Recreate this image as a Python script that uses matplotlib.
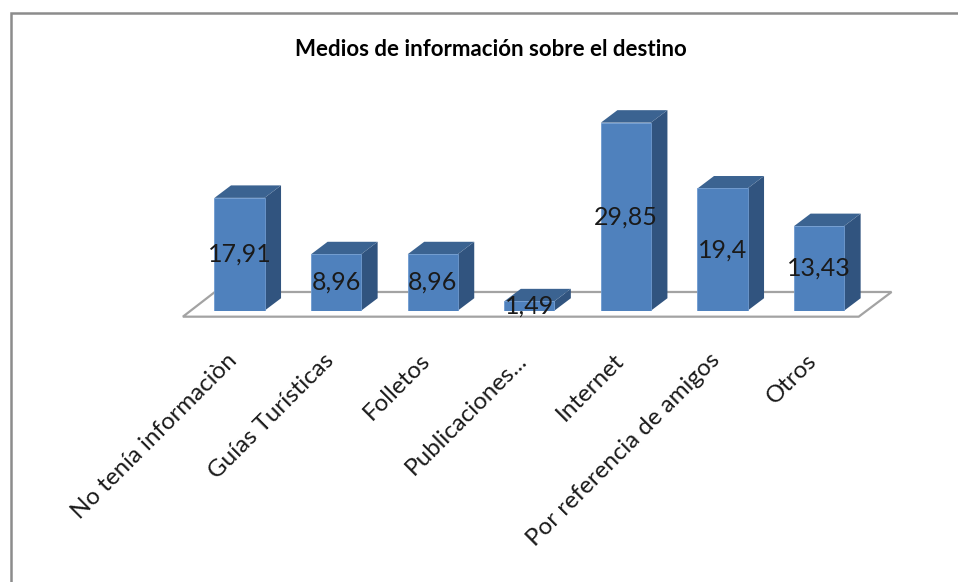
import matplotlib
matplotlib.use('Agg')
import matplotlib.pyplot as plt
from matplotlib.lines import Line2D
from matplotlib.patches import Polygon
from matplotlib.transforms import ScaledTranslation

plt.rcParams['font.family'] = ['Lato', 'DejaVu Sans']

categories = ['No tenía informaciòn', 'Guías Turísticas', 'Folletos', 'Publicaciones...',
              'Internet', 'Por referencia de amigos', 'Otros']
values = [17.91, 8.96, 8.96, 1.49, 29.85, 19.4, 13.43]
title = 'Medios de información sobre el destino'

W, H = 958, 582
FRONT = '#4f81bd'
SIDE = '#31547f'
TOP = '#3b6391'
FLOOR = '#a3a3a3'
BORDER = '#8c8c8c'

# pseudo-3D depth, in data units
bar_w = 0.518
depth_x = 0.171
depth_y = 1.98

fig = plt.figure(figsize=(W / 100, H / 100), dpi=100)
fig.patch.set_facecolor('white')

# axes placed so that y=0 is the foot of the bars
left, right = 191.2, 867.4
base, top_px = 310.7, 109.1
ax = fig.add_axes([left / W, 1 - base / H, (right - left) / W, (base - top_px) / H])
ax.set_xlim(-0.5, 6.5)
ax.set_ylim(0, 32)
ax.patch.set_visible(False)
for s in ax.spines.values():
    s.set_visible(False)
ax.set_yticks([])

# floor
ax.add_patch(Polygon([(-0.586, -0.95), (6.41, -0.95), (6.75, 2.97), (-0.255, 2.97)],
                     closed=True, fc='white', ec=FLOOR, lw=1.6, clip_on=False, zorder=1))

ax.bar(range(len(values)), values, width=bar_w, color=FRONT, edgecolor='#6f9bd0',
       linewidth=0.6, zorder=3)

for i, v in enumerate(values):
    x0, x1 = i - bar_w / 2, i + bar_w / 2
    ax.add_patch(Polygon([(x1, 0), (x1 + depth_x, depth_y), (x1 + depth_x, v + depth_y), (x1, v)],
                         closed=True, fc=SIDE, ec='none', zorder=2, clip_on=False))
    ax.add_patch(Polygon([(x0, v), (x1, v), (x1 + depth_x, v + depth_y), (x0 + depth_x, v + depth_y)],
                         closed=True, fc=TOP, ec='none', zorder=2, clip_on=False))
    ax.text(i, v / 2, f'{v:g}'.replace('.', ','), ha='center', va='center',
            fontsize=18, color='#1a1a1a', zorder=5)

ax.set_xticks(range(len(categories)))
ax.set_xticklabels(categories, rotation=45, ha='right', rotation_mode='anchor',
                   fontsize=17.4, color='#1a1a1a')
ax.tick_params(axis='x', length=0, pad=28)
# labels end a little left of the bar centres
shift = ScaledTranslation(-13 / 100, 0, fig.dpi_scale_trans)
for lab in ax.get_xticklabels():
    lab.set_transform(lab.get_transform() + shift)

fig.text(491 / W, 1 - 49 / H, title, ha='center', va='center', fontsize=16,
         fontweight='bold', color='black')

# chart frame, only top and left show in the crop
fig.add_artist(Line2D([10.5 / W, 10.5 / W, 1], [0, 1 - 12.5 / H, 1 - 12.5 / H],
                      color=BORDER, lw=1.8, solid_joinstyle='miter'))

fig.savefig('out.png', dpi=100)
plt.close(fig)
